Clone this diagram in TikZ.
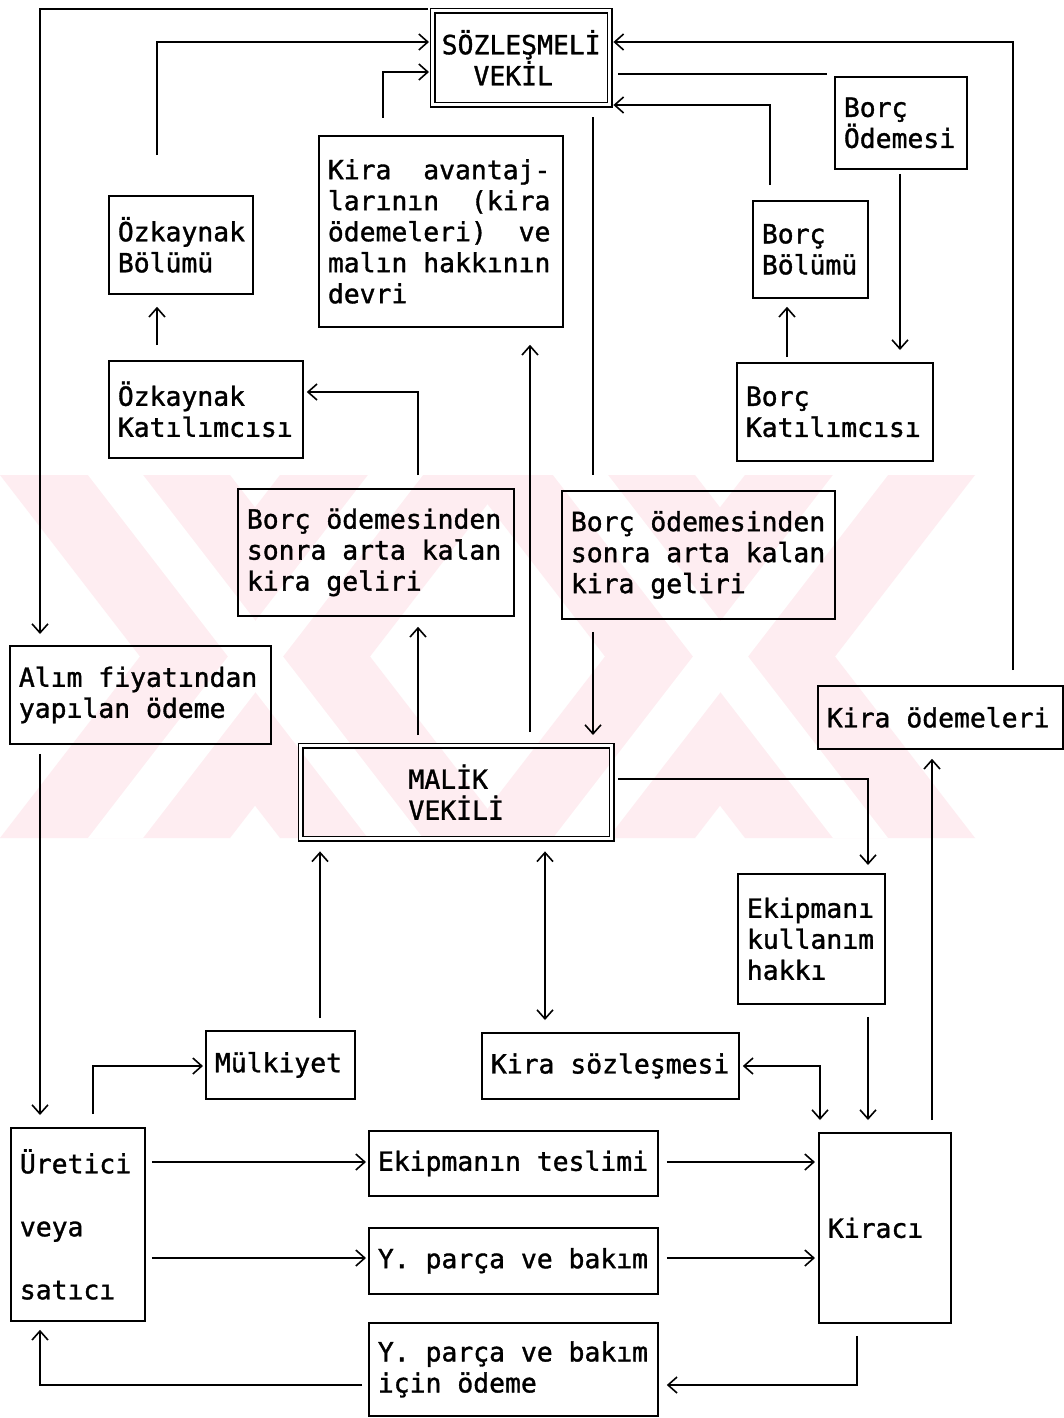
\documentclass[tikz,border=0pt]{standalone}
\usepackage{fontspec}
\setmainfont{DejaVu Sans Mono}[FakeBold=1.3,AutoFakeBold=1.3]
\usetikzlibrary{arrows.meta}
\definecolor{wm}{RGB}{254,237,241}

% one fixed character-wide word space
\newcommand\ws{\hspace*{0.6021em}}

% a plain box: name, x, y (top-left, px), width, height, text
\newcommand\bx[6]{%
  \pgfmathsetmacro\bxtw{#4-18}%
  \node[box,minimum width=#4pt,minimum height=#5pt,text width=\bxtw pt] (#1) at (#2,#3) {#6};}

\begin{document}
\begin{tikzpicture}[x=1pt,y=-1pt,
  txt/.style={font={\fontsize{26.4}{31}\selectfont\bfseries}},
  box/.style={txt,draw,line width=1.8pt,inner xsep=9pt,inner ysep=0pt,align=left,anchor=north west},
  dbox/.style={txt,draw,double,double distance=3.2pt,line width=1.4pt,inner sep=0pt,align=left,anchor=north west},
  conn/.style={line width=1.6pt},
  tip/.tip={Straight Barb[length=9pt,width=16pt]},
  arr/.style={conn,-tip},
  darr/.style={conn,tip-tip},
]
\useasboundingbox (0,0) rectangle (1064,1418);
\fill[white] (0,0) rectangle (1064,1418);

% background emblem: two crossed pairs of light bands
\begin{scope}
  \clip (0,475) rectangle (1000,838);
  \fill[wm] (0,475) -- (230,475) -- (510,838) -- (280,838) -- cycle;
  \fill[wm] (280,475) -- (510,475) -- (230,838) -- (0,838) -- cycle;
  \fill[wm] (465,475) -- (695,475) -- (975,838) -- (745,838) -- cycle;
  \fill[wm] (745,475) -- (975,475) -- (695,838) -- (465,838) -- cycle;
  \fill[white] (88,475) -- (143,475) -- (423,838) -- (368,838) -- cycle;
  \fill[white] (368,475) -- (423,475) -- (143,838) -- (88,838) -- cycle;
  \fill[white] (553,475) -- (608,475) -- (888,838) -- (833,838) -- cycle;
  \fill[white] (833,475) -- (888,475) -- (608,838) -- (553,838) -- cycle;
\end{scope}

% double-framed boxes
\node[dbox,minimum width=177pt,minimum height=94pt] (soz) at (432,10)
  {SÖZLEŞMELİ\\\ws\ws VEKİL};
\node[dbox,minimum width=311pt,minimum height=93pt] (malik) at (300,745)
  {MALİK\\VEKİLİ};

% plain boxes
\bx{ozb}{108}{195}{144}{98}{Özkaynak\\Bölümü}
\bx{ka}{318}{135}{244}{191}{Kira\ws\ws avantaj-\\larının\ws\ws(kira\\ödemeleri)\ws\ws ve\\malın\ws hakkının\\devri}
\bx{bod}{834}{76}{132}{92}{Borç\\Ödemesi}
\bx{bb}{752}{200}{115}{97}{Borç\\Bölümü}
\bx{ozk}{108}{360}{194}{97}{Özkaynak\\Katılımcısı}
\bx{bk}{736}{362}{196}{98}{Borç\\Katılımcısı}
\bx{bl}{237}{488}{276}{127}{Borç\ws ödemesinden\\sonra\ws arta\ws kalan\\kira\ws geliri}
\bx{br}{561}{490}{273}{128}{Borç\ws ödemesinden\\sonra\ws arta\ws kalan\\kira\ws geliri}
\bx{alim}{9}{645}{261}{98}{Alım\ws fiyatından\\yapılan\ws ödeme}
\bx{kod}{817}{685}{245}{63}{Kira\ws ödemeleri}
\bx{ekip}{737}{873}{147}{130}{Ekipmanı\\kullanım\\hakkı}
\bx{mulk}{205}{1030}{149}{68}{Mülkiyet}
\bx{ks}{481}{1032}{257}{66}{Kira\ws sözleşmesi}
\bx{ur}{10}{1127}{134}{193}{Üretici\\[32pt]veya\\[32pt]satıcı}
\bx{et}{368}{1130}{289}{65}{Ekipmanın\ws teslimi}
\bx{yp}{368}{1227}{289}{66}{Y.\ws parça\ws ve\ws bakım}
\bx{kir}{818}{1132}{132}{190}{Kiracı}
\bx{yo}{368}{1322}{289}{93}{Y.\ws parça\ws ve\ws bakım\\için\ws ödeme}

% bend points of the connectors
\coordinate (p1) at (40,9);
\coordinate (p2) at (157,42);
\coordinate (p3) at (383,72);
\coordinate (p4) at (1013,42);
\coordinate (p5) at (617,74);
\coordinate (p6) at (900,0);
\coordinate (p7) at (787,0);
\coordinate (p8) at (770,105);
\coordinate (p9) at (593,0);
\coordinate (p10) at (418,392);
\coordinate (p11) at (157,0);
\coordinate (p12) at (530,0);
\coordinate (p13) at (868,779);
\coordinate (p14) at (932,0);
\coordinate (p15) at (545,0);
\coordinate (p16) at (820,1066);
\coordinate (p17) at (320,0);
\coordinate (p18) at (93,1066);
\coordinate (p20) at (0,1162);
\coordinate (p21) at (0,1258);
\coordinate (p22) at (857,1385);
\coordinate (p23) at (40,1385);

% upper part
\draw[arr,shorten <=4pt,shorten >=11pt] (soz.north west |- p1) -- (p1) -- (alim.north -| p1);
\draw[arr,shorten <=40pt,shorten >=3pt] (ozb.north -| p2) -- (p2) -- (soz.west |- p2);
\draw[arr,shorten <=17pt,shorten >=3pt] (ka.north -| p3) -- (p3) -- (soz.west |- p3);
\draw[arr,shorten <=15pt,shorten >=3pt] (kod.north -| p4) -- (p4) -- (soz.east |- p4);
\draw[conn,shorten <=8pt,shorten >=7pt] (soz.east |- p5) -- (bod.west |- p5);
\draw[arr,shorten <=4pt,shorten >=12pt] (bod.south -| p6) -- (bk.north -| p6);
\draw[arr,shorten <=5pt,shorten >=8pt] (bk.north -| p7) -- (bb.south -| p7);
\draw[arr,shorten <=15pt,shorten >=3pt] (bb.north -| p8) -- (p8) -- (soz.east |- p8);
\draw[conn,shorten <=12pt,shorten >=15pt] (soz.south -| p9) -- (br.north -| p9);
\draw[arr,shorten <=12pt,shorten >=10pt] (br.south -| p9) -- (malik.north -| p9);
\draw[arr,shorten <=10pt,shorten >=10pt] (malik.north -| p10) -- (bl.south -| p10);
\draw[arr,shorten <=13pt,shorten >=3pt] (bl.north -| p10) -- (p10) -- (ozk.east |- p10);
\draw[arr,shorten <=15pt,shorten >=12pt] (ozk.north -| p11) -- (ozb.south -| p11);
\draw[arr,shorten <=13pt,shorten >=17pt] (malik.north -| p12) -- (ka.south -| p12);

% lower part
\draw[arr,shorten <=6pt,shorten >=8pt] (malik.east |- p13) -- (p13) -- (ekip.north -| p13);
\draw[arr,shorten <=12pt,shorten >=12pt] (ekip.south -| p13) -- (kir.north -| p13);
\draw[arr,shorten <=12pt,shorten >=9pt] (kir.north -| p14) -- (kod.south -| p14);
\draw[darr,shorten <=12pt,shorten >=12pt] (malik.south -| p15) -- (ks.north -| p15);
\draw[darr,shorten <=3pt,shorten >=12pt] (ks.east |- p16) -- (p16) -- (kir.north -| p16);
\draw[arr,shorten <=12pt,shorten >=12pt] (mulk.north -| p17) -- (malik.south -| p17);
\draw[arr,shorten <=13pt,shorten >=2pt] (ur.north -| p18) -- (p18) -- (mulk.west |- p18);
\draw[arr,shorten <=9pt,shorten >=12pt] (alim.south -| p1) -- (ur.north -| p1);
\draw[arr,shorten <=6pt,shorten >=2pt] (ur.east |- p20) -- (et.west |- p20);
\draw[arr,shorten <=8pt,shorten >=3pt] (et.east |- p20) -- (kir.west |- p20);
\draw[arr,shorten <=6pt,shorten >=2pt] (ur.east |- p21) -- (yp.west |- p21);
\draw[arr,shorten <=8pt,shorten >=3pt] (yp.east |- p21) -- (kir.west |- p21);
\draw[arr,shorten <=12pt,shorten >=8pt] (kir.south -| p22) -- (p22) -- (yo.east |- p22);
\draw[arr,shorten <=6pt,shorten >=8pt] (yo.west |- p23) -- (p23) -- (ur.south -| p23);
\end{tikzpicture}
\end{document}
